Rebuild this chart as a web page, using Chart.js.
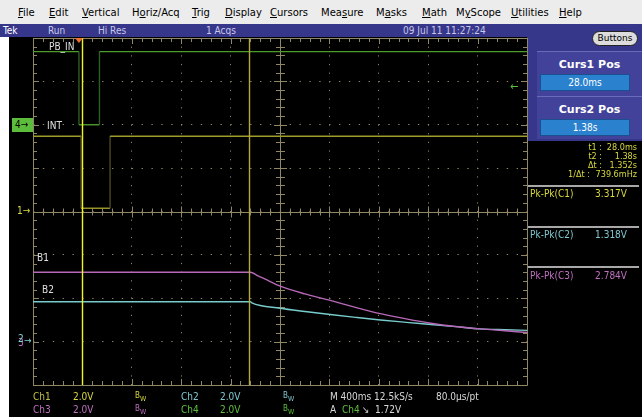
<!DOCTYPE html>
<html>
<head>
<meta charset="utf-8">
<script src="https://cdn.jsdelivr.net/npm/chart.js@4.4.1/dist/chart.umd.min.js"></script>
<style>
  body { margin: 0; width: 642px; height: 417px; background: #fff; overflow: hidden; position: relative;
         font-family: "DejaVu Sans Condensed", "DejaVu Sans", sans-serif; font-size: 10px; }
  .abs { position: absolute; white-space: nowrap; line-height: 1; }
  #menu { position: absolute; left: 0; top: 0; width: 642px; height: 24px; background: #ececec; }
  #menu span { position: absolute; top: 7px; font-family: "DejaVu Sans", sans-serif; font-size: 10px; color: #000; }
  #status { position: absolute; left: 0; top: 24px; width: 642px; height: 13px; background: #36368a; }
  #status span { position: absolute; top: 1px; color: #c8c8e8; font-size: 10px; }
  #screen { position: absolute; left: 9px; top: 37px; width: 633px; height: 380px; background: #000; }
  #side { position: absolute; left: 527px; top: 37px; width: 115px; height: 104px; background: #36368a; }
  .panel { position: absolute; left: 537px; width: 105px; background: #42429a; border-top: 1px solid #6a6ab8; }
  .ptitle { position: absolute; left: 0; width: 105px; text-align: center; color: #fff; font-weight: bold; font-size: 11px;
            font-family: "DejaVu Sans", sans-serif; }
  .pval { position: absolute; left: 3px; width: 88px; height: 15px; background: #2a82cf; border: 1px solid #1c4f8f;
          color: #fff; text-align: center; font-size: 10px; line-height: 15px; }
  #buttons { position: absolute; left: 592px; top: 31px; width: 44px; height: 13px; background: #dcdcdc; border: 1px solid #222;
             border-radius: 8px; font-size: 9px; text-align: center; line-height: 13px; color: #000; font-family: "DejaVu Sans", sans-serif; }
  .sep { position: absolute; left: 528px; width: 111px; height: 2px; background: #a8a8a8; }
  canvas { position: absolute; left: 10px; top: 37px; }
</style>
</head>
<body>
<div id="menu">
  <span style="left:18px"><u>F</u>ile</span>
  <span style="left:49px"><u>E</u>dit</span>
  <span style="left:82px"><u>V</u>ertical</span>
  <span style="left:132px">H<u>o</u>riz/Acq</span>
  <span style="left:192px"><u>T</u>rig</span>
  <span style="left:225px"><u>D</u>isplay</span>
  <span style="left:270px"><u>C</u>ursors</span>
  <span style="left:321px">Mea<u>s</u>ure</span>
  <span style="left:376px">M<u>a</u>sks</span>
  <span style="left:422px"><u>M</u>ath</span>
  <span style="left:456px">M<u>y</u>Scope</span>
  <span style="left:511px"><u>U</u>tilities</span>
  <span style="left:559px"><u>H</u>elp</span>
</div>
<div id="status">
  <span style="left:3px;color:#fff">Tek</span>
  <span style="left:48px">Run</span>
  <span style="left:98px">Hi Res</span>
  <span style="left:206px">1 Acqs</span>
  <span style="left:403px">09 Jul 11 11:27:24</span>
</div>
<div id="screen"></div>
<div id="side"></div>
<div id="buttons">Buttons</div>
<div class="panel" style="top:51px;height:44px">
  <div class="ptitle" style="top:6px">Curs1 Pos</div>
  <div class="pval" style="top:22px">28.0ms</div>
</div>
<div class="panel" style="top:96px;height:42px">
  <div class="ptitle" style="top:6px">Curs2 Pos</div>
  <div class="pval" style="top:22px">1.38s</div>
</div>

<canvas id="scope" width="520" height="352"></canvas>

<!-- trace labels and channel markers -->
<div class="abs" style="left:49px;top:42px;color:#e0e0e0">PB_IN</div>
<div class="abs" style="left:47px;top:121px;color:#e0e0e0">INT</div>
<div class="abs" style="left:37px;top:253px;color:#e0e0e0">B1</div>
<div class="abs" style="left:42px;top:285px;color:#e0e0e0">B2</div>
<div class="abs" style="left:12px;top:118px;width:21px;height:14px;background:#5cbc3c;color:#000;line-height:14px;padding-left:3px;box-sizing:border-box">4&#8594;</div>
<div class="abs" style="left:17px;top:206px;color:#d8d840">1&#8594;</div>
<div class="abs" style="left:18px;top:338px;color:#c070c0;font-size:10px">3</div>
<div class="abs" style="left:18px;top:334px;color:#80d0d8;font-size:10px">2</div>
<div class="abs" style="left:24px;top:336px;color:#80d0d8">&#8594;</div>
<div class="abs" style="left:510px;top:81px;color:#5cc03c;font-size:11px">&#8592;</div>

<!-- cursor readout -->
<div class="abs" style="left:562px;top:143px;width:40px;text-align:right;color:#d8d840;font-size:9px">t1 :</div>
<div class="abs" style="left:596px;top:143px;width:41px;text-align:right;color:#d8d840;font-size:9px">28.0ms</div>
<div class="abs" style="left:562px;top:152px;width:40px;text-align:right;color:#d8d840;font-size:9px">t2 :</div>
<div class="abs" style="left:596px;top:152px;width:41px;text-align:right;color:#d8d840;font-size:9px">1.38s</div>
<div class="abs" style="left:562px;top:161px;width:40px;text-align:right;color:#d8d840;font-size:9px">&#916;t :</div>
<div class="abs" style="left:596px;top:161px;width:41px;text-align:right;color:#d8d840;font-size:9px">1.352s</div>
<div class="abs" style="left:550px;top:170px;width:40px;text-align:right;color:#d8d840;font-size:9px">1/&#916;t :</div>
<div class="abs" style="left:586px;top:170px;width:51px;text-align:right;color:#d8d840;font-size:9px">739.6mHz</div>

<div class="sep" style="top:185px"></div>
<div class="abs" style="left:530px;top:189px;color:#d8d840">Pk-Pk(C1)</div>
<div class="abs" style="left:590px;top:189px;width:37px;text-align:right;color:#d8d840">3.317V</div>
<div class="sep" style="top:226px"></div>
<div class="abs" style="left:530px;top:230px;color:#80c8d0">Pk-Pk(C2)</div>
<div class="abs" style="left:590px;top:230px;width:37px;text-align:right;color:#80c8d0">1.318V</div>
<div class="sep" style="top:266px"></div>
<div class="abs" style="left:530px;top:271px;color:#c070c0">Pk-Pk(C3)</div>
<div class="abs" style="left:590px;top:271px;width:37px;text-align:right;color:#c070c0">2.784V</div>

<!-- bottom channel readout -->
<div class="abs" style="left:33px;top:392px;color:#c0c040">Ch1</div>
<div class="abs" style="left:73px;top:392px;color:#d8d840">2.0V</div>
<div class="abs" style="left:135px;top:392px;color:#d8d840;font-size:8px">B<sub style="font-size:7px">W</sub></div>
<div class="abs" style="left:181px;top:392px;color:#80c8d0">Ch2</div>
<div class="abs" style="left:220px;top:392px;color:#80c8d0">2.0V</div>
<div class="abs" style="left:283px;top:392px;color:#80c8d0;font-size:8px">B<sub style="font-size:7px">W</sub></div>
<div class="abs" style="left:330px;top:392px;color:#d8d8d8">M 400ms 12.5kS/s</div>
<div class="abs" style="left:436px;top:392px;color:#d8d8d8">80.0&#181;s/pt</div>
<div class="abs" style="left:33px;top:405px;color:#c070c0">Ch3</div>
<div class="abs" style="left:73px;top:405px;color:#c070c0">2.0V</div>
<div class="abs" style="left:135px;top:405px;color:#c070c0;font-size:8px">B<sub style="font-size:7px">W</sub></div>
<div class="abs" style="left:181px;top:405px;color:#5cc03c">Ch4</div>
<div class="abs" style="left:220px;top:405px;color:#5cc03c">2.0V</div>
<div class="abs" style="left:283px;top:405px;color:#5cc03c;font-size:8px">B<sub style="font-size:7px">W</sub></div>
<div class="abs" style="left:330px;top:405px;color:#d8d8d8">A</div>
<div class="abs" style="left:342px;top:405px;color:#5cc03c">Ch4</div>
<div class="abs" style="left:362px;top:405px;color:#d8d8d8">&#8600;</div>
<div class="abs" style="left:375px;top:405px;color:#d8d8d8">1.72V</div>

<script>
// horizontal: 400 ms/div, 10 divisions, trigger ~9% from the left
const secPerDiv = 0.4;
const timeMin = -0.372;
const timeMax = timeMin + 10 * secPerDiv;
const voltsPerDiv = 2.0;

// cursor positions (s)
const cursorTimes = [0.028, 1.38];

// Ch4 - PB_IN (green)
const ch4Time = [timeMin, 0.0, 0.0, 0.166, 0.166, timeMax];
const ch4Volts = [3.37, 3.37, 0.0, 0.0, 3.37, 3.37];

// Ch1 - INT (yellow)
const ch1Time = [timeMin, 0.017, 0.017, 0.252, 0.252, timeMax];
const ch1Volts = [3.47, 3.47, 0.15, 0.15, 3.47, 3.47];

// Ch3 - B1 (magenta)
const ch3Time = [timeMin, 1.388, 1.45, 1.50, 1.63, 1.83, 2.035, 2.24, 2.44, 2.65, 2.85, 3.05, 3.25, 3.45, timeMax];
const ch3Volts = [3.20, 3.20, 3.03, 2.90, 2.56, 2.20, 1.90, 1.58, 1.29, 1.05, 0.85, 0.70, 0.59, 0.50, 0.42];

// Ch2 - B2 (cyan)
const ch2Time = [timeMin, 1.388, 1.40, 1.63, 1.83, 2.035, 2.24, 2.44, 2.65, 2.85, 3.05, 3.25, 3.45, timeMax];
const ch2Volts = [1.84, 1.84, 1.79, 1.54, 1.39, 1.25, 1.12, 1.00, 0.89, 0.79, 0.69, 0.59, 0.55, 0.52];

// ground marker offsets in divisions from centre
const ch1Offset = 0, ch2Offset = -3, ch3Offset = -3, ch4Offset = 2;

function toPoints(ts, vs) {
  return ts.map((t, i) => ({ x: t, y: vs[i] }));
}

function voltAxis(offset) {
  // 8 divisions tall, ground sits `offset` divisions above centre
  return {
    display: false,
    min: (-4 - offset) * voltsPerDiv,
    max: (4 - offset) * voltsPerDiv
  };
}

const gratColor = '#8f8766';
const dotColor = '#8a8660';

// edges of fast transitions look dimmer on the scope
function edgeColor(bright, dim) {
  return ctx => ctx.p0.parsed.x === ctx.p1.parsed.x ? dim : bright;
}

const graticule = {
  id: 'graticule',
  beforeDatasetsDraw(chart) {
    const { ctx, chartArea: a, scales } = chart;
    const xs = scales.x, ys = scales.y1;
    const divW = (a.right - a.left) / 10, divH = (a.bottom - a.top) / 8;
    const cx = xs.getPixelForValue(timeMin + 5 * secPerDiv);
    const cy = ys.getPixelForValue(0);
    ctx.save();
    ctx.strokeStyle = gratColor;
    ctx.lineWidth = 1;
    ctx.beginPath();
    ctx.rect(Math.round(a.left) + 0.5, Math.round(a.top) + 0.5, Math.round(a.right - a.left), Math.round(a.bottom - a.top));
    ctx.moveTo(Math.round(cx) + 0.5, a.top); ctx.lineTo(Math.round(cx) + 0.5, a.bottom);
    ctx.moveTo(a.left, Math.round(cy) + 0.5); ctx.lineTo(a.right, Math.round(cy) + 0.5);
    // minor ticks, 5 per division
    for (let i = 1; i < 50; i++) {
      const x = Math.round(a.left + i * divW / 5) + 0.5;
      const len = i % 5 === 0 ? 6 : 4;
      ctx.moveTo(x, a.top); ctx.lineTo(x, a.top + len);
      ctx.moveTo(x, a.bottom); ctx.lineTo(x, a.bottom - len);
      ctx.moveTo(x, cy - len + 1); ctx.lineTo(x, cy + len);
    }
    for (let i = 1; i < 40; i++) {
      const y = Math.round(a.top + i * divH / 5) + 0.5;
      const len = i % 5 === 0 ? 6 : 4;
      ctx.moveTo(a.left, y); ctx.lineTo(a.left + len, y);
      ctx.moveTo(a.right, y); ctx.lineTo(a.right - len, y);
      ctx.moveTo(cx - len, y); ctx.lineTo(cx + len + 1, y);
    }
    ctx.stroke();
    ctx.restore();
  },
  afterDatasetsDraw(chart) {
    const { ctx, chartArea: a, scales } = chart;
    const colors = ['#f4f420', '#b4a83c'];
    ctx.save();
    cursorTimes.forEach((t, i) => {
      const x = Math.round(scales.x.getPixelForValue(t)) + 0.5;
      ctx.strokeStyle = colors[i];
      ctx.lineWidth = 1.4;
      ctx.beginPath();
      ctx.moveTo(x, a.top);
      ctx.lineTo(x, a.bottom);
      ctx.stroke();
    });
    // trigger position marker
    const tx = scales.x.getPixelForValue(0);
    ctx.fillStyle = '#f07030';
    ctx.beginPath();
    ctx.moveTo(tx - 4, a.top); ctx.lineTo(tx + 4, a.top); ctx.lineTo(tx, a.top + 5);
    ctx.closePath();
    ctx.fill();
    ctx.restore();
  }
};

new Chart(document.getElementById('scope'), {
  type: 'line',
  data: {
    datasets: [
      { label: 'PB_IN', data: toPoints(ch4Time, ch4Volts), yAxisID: 'y4',
        borderColor: '#4c9c2c', segment: { borderColor: edgeColor('#4c9c2c', '#2c5c24') } },
      { label: 'INT', data: toPoints(ch1Time, ch1Volts), yAxisID: 'y1',
        borderColor: '#a09c2c', segment: { borderColor: edgeColor('#a09c2c', '#4c4a20') } },
      { label: 'B1', data: toPoints(ch3Time, ch3Volts), yAxisID: 'y3',
        borderColor: '#b868b8', cubicInterpolationMode: 'monotone' },
      { label: 'B2', data: toPoints(ch2Time, ch2Volts), yAxisID: 'y2',
        borderColor: '#78cccc', cubicInterpolationMode: 'monotone' }
    ]
  },
  options: {
    responsive: false,
    animation: false,
    parsing: false,
    layout: { padding: { left: 23, top: 1, right: 3, bottom: 4 } },
    elements: { point: { radius: 0 }, line: { borderWidth: 1.4 } },
    plugins: { legend: { display: false }, tooltip: { enabled: false } },
    scales: {
      x: {
        type: 'linear', min: timeMin, max: timeMax,
        afterBuildTicks: s => { s.ticks = Array.from({ length: 11 }, (_, i) => ({ value: timeMin + i * secPerDiv })); },
        ticks: { display: false },
        border: { display: false, dash: [1.2, 7.45] },
        grid: { color: dotColor, drawTicks: false }
      },
      y1: Object.assign(voltAxis(ch1Offset), {
        display: true, position: 'left',
        ticks: { display: false, stepSize: voltsPerDiv },
        border: { display: false, dash: [1.4, 8.47] },
        grid: { color: dotColor, drawTicks: false }
      }),
      y2: voltAxis(ch2Offset),
      y3: voltAxis(ch3Offset),
      y4: voltAxis(ch4Offset)
    }
  },
  plugins: [graticule]
});
</script>
</body>
</html>
